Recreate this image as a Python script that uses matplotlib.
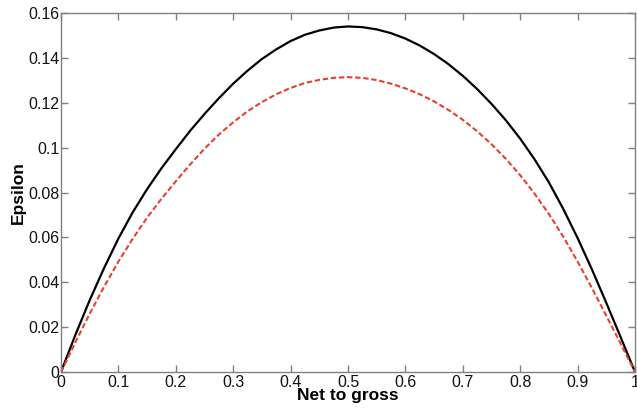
import numpy as np
import matplotlib
matplotlib.use('Agg')
from matplotlib import pyplot as plt

# values
net_to_gross = np.round(np.arange(0, 1.0001, 0.025), 3)

eps_black = [0.0, 0.0165, 0.0320, 0.0463, 0.0595, 0.0712, 0.0815, 0.0908,
             0.0993, 0.1075, 0.1150, 0.1220, 0.1285, 0.1343, 0.1395, 0.1438,
             0.1475, 0.1503, 0.1522, 0.1535, 0.1540,
             0.1537, 0.1527, 0.1510, 0.1486, 0.1455, 0.1417, 0.1372, 0.1320,
             0.1261, 0.1195, 0.1122, 0.1040, 0.0948, 0.0845, 0.0727, 0.0597,
             0.0457, 0.0308, 0.0155, 0.0]

eps_red = [0.0, 0.0132, 0.0260, 0.0380, 0.0492, 0.0594, 0.0688, 0.0772,
           0.0850, 0.0925, 0.0995, 0.1058, 0.1113, 0.1162, 0.1203, 0.1238,
           0.1266, 0.1288, 0.1302, 0.1311, 0.1314,
           0.1311, 0.1301, 0.1285, 0.1264, 0.1238, 0.1206, 0.1168, 0.1124,
           0.1073, 0.1015, 0.0950, 0.0877, 0.0795, 0.0704, 0.0603, 0.0492,
           0.0374, 0.0251, 0.0126, 0.0]

plt.rcParams['font.family'] = ['Liberation Sans', 'DejaVu Sans']

fig = plt.figure(figsize=(6.37, 4.12), dpi=100)
ax = fig.add_axes([61/637, 40/412, 574/637, 359/412])

ax.plot(net_to_gross, eps_black, color='black', linewidth=1.6)
ax.plot(net_to_gross, eps_red, color='#e8402d', linewidth=1.5,
        linestyle=(0, (2.6, 1.3)))

ax.set_xlim(0, 1)
ax.set_ylim(0, 0.16)
ax.set_xticks(np.arange(0, 1.01, 0.1))
ax.set_xticklabels(['0', '0.1', '0.2', '0.3', '0.4', '0.5', '0.6', '0.7',
                    '0.8', '0.9', '1'])
ax.set_yticks(np.arange(0, 0.161, 0.02))
ax.set_yticklabels(['0', '0.02', '0.04', '0.06', '0.08', '0.1', '0.12',
                    '0.14', '0.16'])

for s in ax.spines.values():
    s.set_color('#808080')
    s.set_linewidth(1.0)
ax.tick_params(direction='in', length=5, width=1.0, color='#808080',
               top=True, right=True, labelsize=11.5, labelcolor='#111111')
ax.tick_params(axis='y', pad=1)
ax.tick_params(axis='x', pad=2)

ax.set_xlabel('Net to gross', fontsize=12.5, fontweight='bold', labelpad=-1)
ax.set_ylabel('Epsilon', fontsize=12.5, fontweight='bold', labelpad=2)

fig.savefig('out.png', dpi=100)
